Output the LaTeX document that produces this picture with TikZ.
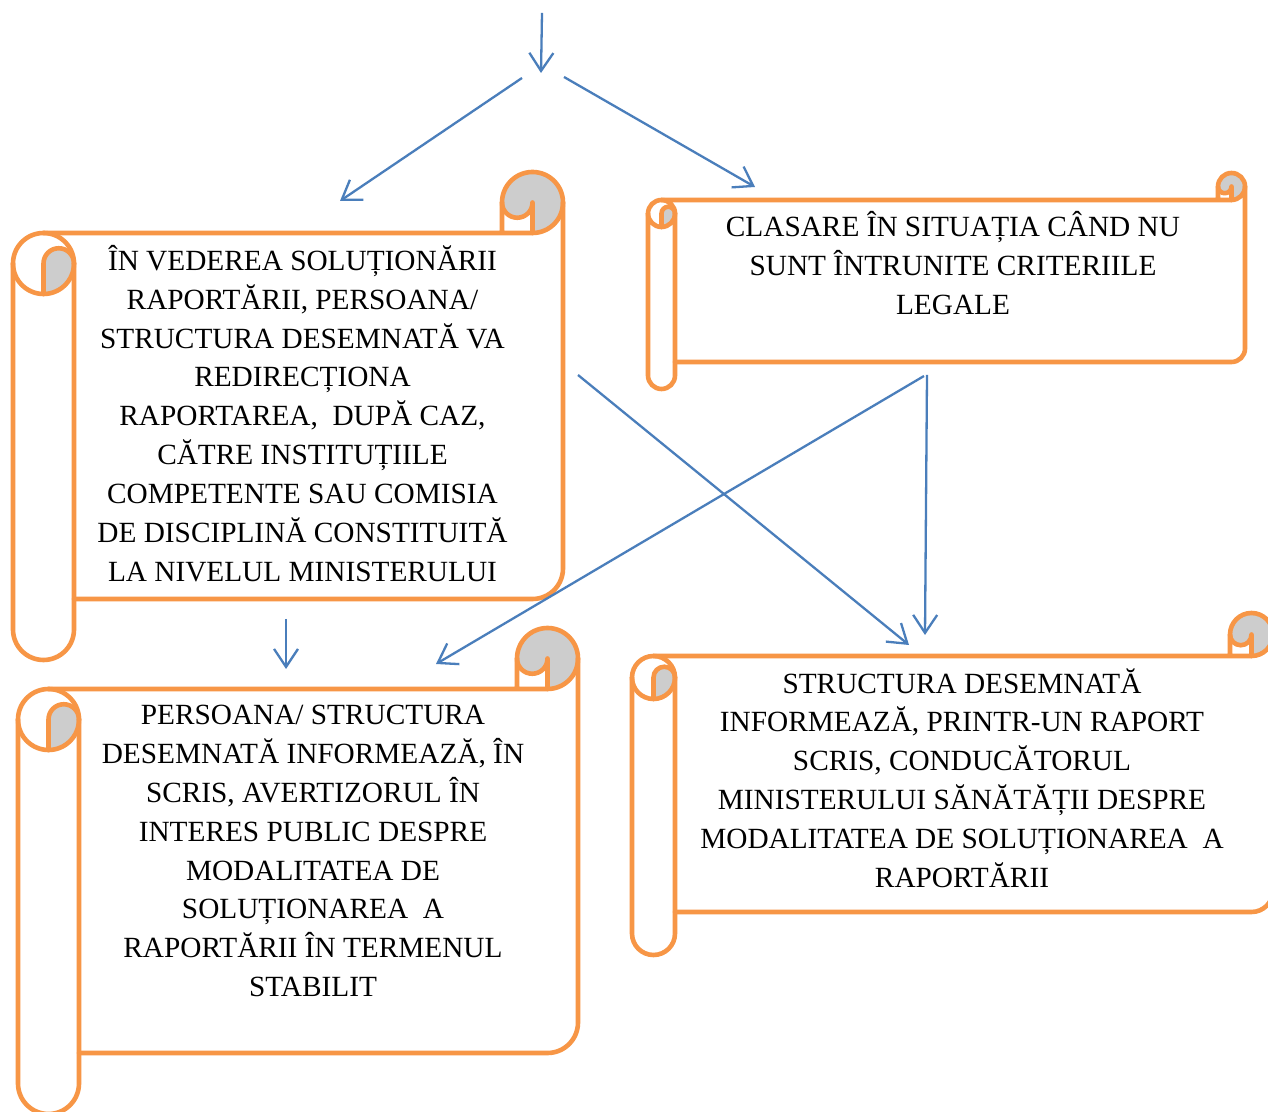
\documentclass[tikz,border=0pt]{standalone}
\usepackage{fontspec}
\setmainfont{Liberation Serif}
\usetikzlibrary{arrows.meta}
\definecolor{scrollorange}{HTML}{F79646}
\definecolor{scrollgray}{HTML}{CDCDCD}
\definecolor{arrowblue}{HTML}{4A7EBB}
\tikzset{
  scrollline/.style={draw=scrollorange,line width=4.6pt,line join=round,line cap=round},
  scrollfill/.style={fill=scrollgray},
  txt/.style={align=center,inner sep=0pt,font=\fontsize{29.3}{38.9}\selectfont},
  flow/.style={draw=arrowblue,line width=2.3pt,-{Straight Barb[length=18pt,width=24pt,line width=2.3pt]}}
}
\newcommand{\vscroll}[5]{%
 \pgfmathsetmacro\sL{#1}\pgfmathsetmacro\sR{#3}%
 \pgfmathsetmacro\sT{1111-#2}\pgfmathsetmacro\sB{1111-#4}%
 \pgfmathsetmacro\sC{#5}\pgfmathsetmacro\sCh{#5/2}\pgfmathsetmacro\sCq{#5/4}%
 \fill[scrollfill] ({\sR-\sCh},{\sT-\sC}) arc[start angle=-90,end angle=180,radius=\sCh] arc[start angle=180,end angle=360,radius=\sCq] -- cycle;
 \fill[scrollfill] ({\sL+\sCh},{\sT-\sC-\sCh}) arc[start angle=180,end angle=0,radius=\sCq] arc[start angle=0,end angle=-90,radius=\sCh] -- cycle;
 \draw[scrollline] ({\sL+\sCh},{\sT-\sC}) -- ({\sR-\sCh},{\sT-\sC}) arc[start angle=-90,end angle=180,radius=\sCh] -- ({\sR-\sC},{\sT-\sC});
 \draw[scrollline] ({\sR},{\sT-\sCh}) -- ({\sR},{\sB+\sC+\sCh}) arc[start angle=0,end angle=-90,radius=\sCh] -- ({\sL+\sC},{\sB+\sC});
 \draw[scrollline] ({\sR-\sC},{\sT-\sCh}) arc[start angle=180,end angle=360,radius=\sCq] -- ({\sR-\sCh},{\sT-\sC});
 \draw[scrollline] ({\sL+\sCh},{\sT-\sC-\sCh}) circle[radius=\sCh];
 \draw[scrollline] ({\sL},{\sT-\sC-\sCh}) -- ({\sL},{\sB+\sCh}) arc[start angle=180,end angle=360,radius=\sCh] -- ({\sL+\sC},{\sT-\sC-\sCh});
 \draw[scrollline] ({\sL+\sCh},{\sT-2*\sC}) -- ({\sL+\sCh},{\sT-\sC-\sCh}) arc[start angle=180,end angle=0,radius=\sCq];
}
\begin{document}
\begin{tikzpicture}[x=1pt,y=1pt]
\useasboundingbox[fill=white] (0,0) rectangle (1268,1111);
% scrolls
\vscroll{13}{172}{563}{660}{61}
\vscroll{648}{173}{1245}{389}{27}
\vscroll{18}{628}{578}{1114}{61}
\vscroll{632}{613}{1273}{955}{43}
% texts
\node[txt] (a) at (302.5,697.5) {ÎN VEDEREA SOLUȚIONĂRII\\RAPORTĂRII, PERSOANA/\\STRUCTURA DESEMNATĂ VA\\REDIRECȚIONA\\RAPORTAREA,\ \ DUPĂ CAZ,\\CĂTRE INSTITUȚIILE\\COMPETENTE SAU COMISIA\\DE DISCIPLINĂ CONSTITUITĂ\\LA NIVELUL MINISTERULUI};
\node[txt] (b) at (953,848) {CLASARE ÎN SITUAȚIA CÂND NU\\SUNT ÎNTRUNITE CRITERIILE\\LEGALE};
\node[txt] (c) at (313,260) {PERSOANA/ STRUCTURA\\DESEMNATĂ INFORMEAZĂ, ÎN\\SCRIS, AVERTIZORUL ÎN\\INTERES PUBLIC DESPRE\\MODALITATEA DE\\SOLUȚIONAREA\ \ A\\RAPORTĂRII ÎN TERMENUL\\STABILIT};
\node[txt] (d) at (962,333) {STRUCTURA DESEMNATĂ\\INFORMEAZĂ, PRINTR-UN RAPORT\\SCRIS, CONDUCĂTORUL\\MINISTERULUI SĂNĂTĂȚII DESPRE\\MODALITATEA DE SOLUȚIONAREA\ \ A\\RAPORTĂRII};
% arrow end points
\coordinate (p1s) at (542,1098); \coordinate (p1e) at (541,1038);
\coordinate (p2s) at (522,1033); \coordinate (p2e) at (340,910);
\coordinate (p3s) at (564,1034); \coordinate (p3e) at (755,924);
\coordinate (p4s) at (578,736);  \coordinate (p4e) at (909,466);
\coordinate (p5s) at (927,736);  \coordinate (p5e) at (925,476);
\coordinate (p6s) at (924,735);  \coordinate (p6e) at (436,447);
\coordinate (p7s) at (286,492);  \coordinate (p7e) at (286,442);
\draw[flow] (p1s) -- (p1e);
\draw[flow] (p2s) -- (p2e);
\draw[flow] (p3s) -- (p3e);
\draw[flow] (p4s) -- (p4e);
\draw[flow] (p5s) -- (p5e);
\draw[flow] (p6s) -- (p6e);
\draw[flow] (p7s) -- (p7e);
\end{tikzpicture}
\end{document}
